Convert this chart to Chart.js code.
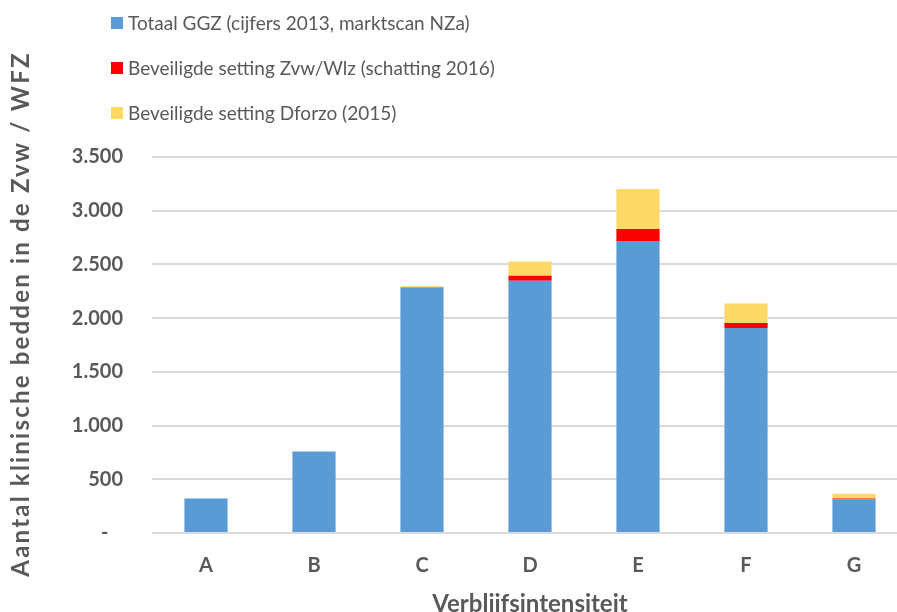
<!DOCTYPE html>
<html>
<head>
<meta charset="utf-8">
<script src="https://cdn.jsdelivr.net/npm/chart.js@4.4.1/dist/chart.umd.min.js"></script>
<style>
  html, body { margin: 0; padding: 0; overflow: hidden; background: #fff; }
  #wrap { position: relative; width: 910px; height: 612px; }
  #legend { position: absolute; left: 111px; top: 0; font: 19px Lato, sans-serif; color: #595959; }
  .item { display: flex; align-items: center; height: 45px; }
  .box { width: 12px; height: 12px; margin-right: 5px; }
</style>
</head>
<body>
<div id="wrap">
  <canvas id="chart" width="910" height="612"></canvas>
  <div id="legend"></div>
</div>
<script>
const categories = ["A", "B", "C", "D", "E", "F", "G"];
const totaalGGZ = [322, 758, 2288, 2348, 2717, 1908, 312];
const zvwWlz = [0, 0, 0, 46, 112, 46, 9];
const dforzo = [0, 0, 8, 134, 372, 183, 44];
const seriesNames = [
    "Totaal GGZ (cijfers 2013, marktscan NZa)",
    "Beveiligde setting Zvw/Wlz (schatting 2016)",
    "Beveiligde setting Dforzo (2015)"
];
const seriesColors = ["#5b9bd5", "#ff0000", "#ffd966"];
const yTicks = [0, 500, 1000, 1500, 2000, 2500, 3000, 3500];

const textColor = "#595959";
const fontFamily = "Lato, sans-serif";

function formatThousands(v) {
    if (v === 0) return "-   ";
    return String(v).replace(/\B(?=(\d{3})+(?!\d))/g, ".");
}

// rotated y axis title, drawn by hand so it sits where the original has it
const yTitlePlugin = {
    id: "yTitle",
    afterDraw(chart) {
        const ctx = chart.ctx;
        ctx.save();
        ctx.translate(21, 314);
        ctx.rotate(-Math.PI / 2);
        ctx.font = "bold 24px " + fontFamily;
        ctx.letterSpacing = "2.2px";
        ctx.fillStyle = textColor;
        ctx.textAlign = "center";
        ctx.textBaseline = "middle";
        ctx.fillText("Aantal klinische bedden in de Zvw / WFZ", 0, 0);
        ctx.restore();
    }
};

const chart = new Chart(document.getElementById("chart"), {
    type: "bar",
    data: {
        labels: categories,
        datasets: [
            { label: seriesNames[0], data: totaalGGZ, backgroundColor: seriesColors[0] },
            { label: seriesNames[1], data: zvwWlz, backgroundColor: seriesColors[1] },
            { label: seriesNames[2], data: dforzo, backgroundColor: seriesColors[2] }
        ]
    },
    options: {
        responsive: false,
        animation: false,
        maintainAspectRatio: false,
        layout: { padding: { top: 157, right: 2, left: 0, bottom: 0 } },
        datasets: { bar: { categoryPercentage: 1, barPercentage: 0.4 } },
        plugins: {
            legend: { display: false },
            tooltip: { enabled: false }
        },
        scales: {
            x: {
                stacked: true,
                grid: { display: false, drawTicks: false },
                border: { display: false },
                ticks: {
                    color: textColor,
                    font: { family: fontFamily, size: 20, weight: "bold" },
                    padding: 21
                },
                title: {
                    display: true,
                    text: "Verblijfsintensiteit",
                    color: textColor,
                    font: { family: fontFamily, size: 24, weight: "bold", lineHeight: 1 },
                    padding: { top: -7, bottom: -4 }
                }
            },
            y: {
                stacked: true,
                min: 0,
                max: 3500,
                afterFit(scale) { scale.width = 152; },
                afterBuildTicks(scale) { scale.ticks = yTicks.map(v => ({ value: v })); },
                grid: { color: "#d9d9d9", lineWidth: 2, drawTicks: false },
                border: { display: false },
                ticks: {
                    color: textColor,
                    font: { family: fontFamily, size: 20, weight: "bold" },
                    padding: 29,
                    callback: v => formatThousands(v)
                }
            }
        }
    },
    plugins: [yTitlePlugin]
});

// html legend, one item per line like the original
const legendEl = document.getElementById("legend");
chart.data.datasets.forEach(ds => {
    const item = document.createElement("div");
    item.className = "item";
    const box = document.createElement("span");
    box.className = "box";
    box.style.background = ds.backgroundColor;
    const label = document.createElement("span");
    label.textContent = ds.label;
    item.appendChild(box);
    item.appendChild(label);
    legendEl.appendChild(item);
});
</script>
</body>
</html>
